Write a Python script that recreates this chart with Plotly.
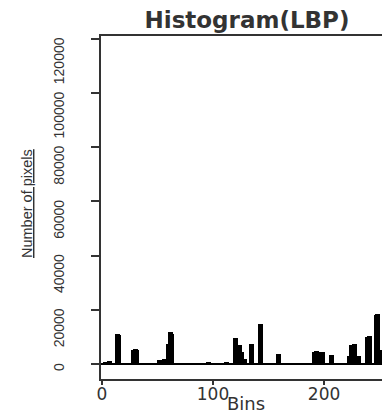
import plotly.graph_objects as go

# LBP histogram values (bin -> number of pixels)
bins = [3, 7, 14, 15, 28, 30, 31, 52, 56, 60, 62, 63, 96, 112, 120, 124, 126, 128,
        135, 143, 159, 191, 193, 195, 199, 207, 223, 225, 227, 231, 239, 241, 247, 248, 251]
counts = [700, 1000, 11000, 10600, 5000, 5400, 5000, 1500, 1900, 7300, 11700, 11000,
          400, 900, 9600, 6900, 4600, 2000, 7300, 14700, 3700, 4600, 4700, 4500, 4400,
          3400, 3000, 7000, 7300, 2800, 10000, 10300, 18000, 18400, 5000]

x_ticks = [0, 100, 200]
y_ticks = [0, 20000, 40000, 60000, 80000, 100000, 120000]
y_tick_labels = ["0", "20000", "40000", "60000", "80000", "100000", "120000"]

title_text = "Histogram(LBP)"
x_title = "Bins"
y_title = "Number of pixels"

INK = "#333333"
W, H = 382, 416
ML, MR, MT, MB = 101, 0, 36, 37
PW = W - ML - MR
PH = H - MT - MB

fig = go.Figure()
fig.add_trace(go.Bar(x=bins, y=counts, width=4.5,
                     marker=dict(color="black", line=dict(width=0)),
                     showlegend=False))

annotations = []
for v, t in zip(y_ticks, y_tick_labels):
    annotations.append(dict(
        x=(59 - ML) / PW, xref="paper", y=v, yref="y",
        text=t, textangle=-90, showarrow=False,
        xanchor="center", yanchor="top", yshift=3,
        font=dict(family="Liberation Sans", size=14, color=INK)))

annotations.append(dict(
    x=(27 - ML) / PW, xref="paper", y=(MT + PH - 204) / PH, yref="paper",
    text="<u>" + y_title + "</u>", textangle=-90, showarrow=False,
    xanchor="center", yanchor="middle",
    font=dict(family="Liberation Sans", size=14.5, color=INK)))

annotations.append(dict(
    x=(246 - ML) / PW, xref="paper", y=(MT + PH - 416) / PH, yref="paper",
    text=x_title, showarrow=False, xanchor="center", yanchor="bottom",
    font=dict(family="DejaVu Sans", size=18, color=INK)))

fig.update_layout(
    width=W, height=H, autosize=False,
    margin=dict(l=ML, r=MR, t=MT, b=MB, pad=0),
    paper_bgcolor="white", plot_bgcolor="white",
    bargap=0,
    title=dict(text="<b>" + title_text + "</b>", x=(247 - ML) / PW, xref="paper",
               xanchor="center", y=1 - 20 / H, yref="container", yanchor="middle",
               font=dict(family="DejaVu Sans", size=23, color=INK)),
    annotations=annotations,
    xaxis=dict(range=[-0.9, 252.2], tickvals=x_ticks, ticks="outside", ticklen=4,
               tickwidth=1.5, tickcolor=INK, showline=True, linecolor=INK, linewidth=1.5,
               mirror=True, showgrid=False, zeroline=False, automargin=False,
               ticklabelstandoff=-5,
               tickfont=dict(family="DejaVu Sans", size=17, color=INK)),
    yaxis=dict(range=[-5535, 121000], tickvals=y_ticks, ticks="outside", ticklen=8,
               tickwidth=1.5, tickcolor=INK, showline=True, linecolor=INK, linewidth=1.5,
               showticklabels=False, showgrid=False, zeroline=True, zerolinecolor="black",
               zerolinewidth=2, automargin=False),
)

fig.write_html("out.html", config={"displayModeBar": False},
               post_script="document.body.style.margin='0';")
